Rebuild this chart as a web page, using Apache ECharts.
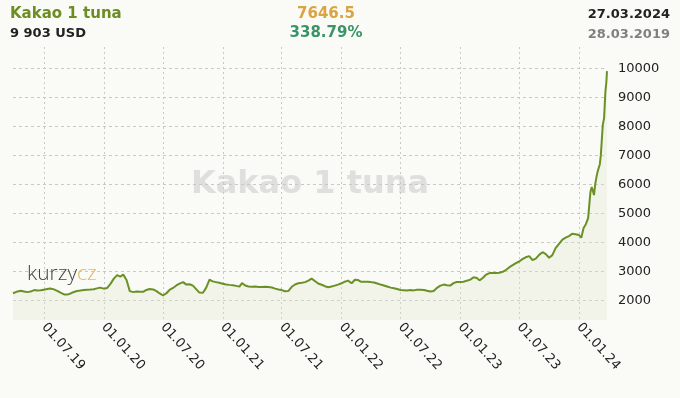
<!DOCTYPE html>
<html>
<head>
<meta charset="utf-8">
<script src="https://cdn.jsdelivr.net/npm/echarts@6/dist/echarts.min.js"></script>
<style>
html,body{margin:0;padding:0;background:#fafaf6;}
#chart{width:680px;height:398px;}
</style>
</head>
<body>
<div id="chart"></div>
<script>
var titleText = 'Kakao 1 tuna';
var lastPriceText = '9 903 USD';
var changeAbs = '7646.5';
var changePct = '338.79%';
var endDateText = '27.03.2024';
var startDateText = '28.03.2019';

var dates = [
'2019-03-28','2019-04-01','2019-04-11','2019-04-21','2019-05-01','2019-05-11','2019-05-21','2019-06-01','2019-06-11','2019-06-21',
'2019-07-01','2019-07-11','2019-07-21','2019-08-01','2019-08-11','2019-08-21','2019-09-01','2019-09-11','2019-09-21','2019-10-01',
'2019-10-11','2019-10-21','2019-11-01','2019-11-11','2019-11-21','2019-12-01','2019-12-11','2019-12-21',
'2020-01-01','2020-01-11','2020-01-21','2020-02-01','2020-02-11','2020-02-21','2020-03-01','2020-03-11','2020-03-21','2020-04-01',
'2020-04-11','2020-04-21','2020-05-01','2020-05-11','2020-05-21','2020-06-01','2020-06-11','2020-06-21','2020-07-01','2020-07-11',
'2020-07-21','2020-08-01','2020-08-11','2020-08-21','2020-09-01','2020-09-11','2020-09-21','2020-10-01','2020-10-11','2020-10-21',
'2020-11-01','2020-11-11','2020-11-21','2020-12-01','2020-12-11','2020-12-21',
'2021-01-01','2021-01-11','2021-01-21','2021-02-01','2021-02-11','2021-02-21','2021-03-01','2021-03-11','2021-03-21','2021-04-01',
'2021-04-11','2021-04-21','2021-05-01','2021-05-11','2021-05-21','2021-06-01','2021-06-11','2021-06-21','2021-07-01','2021-07-11',
'2021-07-21','2021-08-01','2021-08-11','2021-08-21','2021-09-01','2021-09-11','2021-09-21','2021-10-01','2021-10-11','2021-10-21',
'2021-11-01','2021-11-11','2021-11-21','2021-12-01','2021-12-11','2021-12-21',
'2022-01-01','2022-01-11','2022-01-21','2022-02-01','2022-02-11','2022-02-21','2022-03-01','2022-03-11','2022-03-21','2022-04-01',
'2022-04-11','2022-04-21','2022-05-01','2022-05-11','2022-05-21','2022-06-01','2022-06-11','2022-06-21','2022-07-01','2022-07-11',
'2022-07-21','2022-08-01','2022-08-11','2022-08-21','2022-09-01','2022-09-11','2022-09-21','2022-10-01','2022-10-11','2022-10-21',
'2022-11-01','2022-11-11','2022-11-21','2022-12-01','2022-12-11','2022-12-21',
'2023-01-01','2023-01-11','2023-01-21','2023-02-01','2023-02-11','2023-02-21','2023-03-01','2023-03-11','2023-03-21','2023-04-01',
'2023-04-11','2023-04-21','2023-05-01','2023-05-11','2023-05-21','2023-06-01','2023-06-11','2023-06-21','2023-07-01','2023-07-11',
'2023-07-21','2023-08-01','2023-08-11','2023-08-21','2023-09-01','2023-09-11','2023-09-21','2023-10-01','2023-10-11','2023-10-21',
'2023-11-01','2023-11-11','2023-11-21','2023-12-01','2023-12-11','2023-12-21',
'2024-01-01','2024-01-08','2024-01-15','2024-01-22','2024-01-29','2024-02-05','2024-02-09','2024-02-13','2024-02-16','2024-02-20',
'2024-02-23','2024-02-27','2024-03-01','2024-03-05','2024-03-08','2024-03-11','2024-03-14','2024-03-18','2024-03-20','2024-03-22',
'2024-03-25','2024-03-27'
];

var prices = [
2257,2280,2320,2345,2320,2295,2315,2365,2350,2360,
2380,2400,2420,2390,2340,2275,2215,2210,2250,2300,
2335,2350,2370,2380,2385,2395,2425,2450,
2415,2435,2570,2760,2880,2830,2900,2710,2330,2295,
2315,2310,2305,2370,2400,2390,2330,2250,2180,2250,
2370,2440,2525,2590,2640,2555,2565,2520,2400,2280,
2275,2450,2725,2665,2640,2615,
2585,2555,2545,2535,2510,2485,2605,2525,2490,2480,
2485,2475,2470,2480,2470,2455,2415,2385,2365,2325,
2330,2480,2560,2600,2620,2640,2690,2760,2680,2590,
2550,2500,2465,2490,2520,2555,
2600,2655,2690,2600,2720,2710,2655,2655,2655,2640,
2625,2590,2555,2525,2490,2450,2430,2400,2370,2360,
2350,2365,2355,2380,2380,2370,2340,2315,2335,2440,
2520,2555,2535,2520,2605,2645,
2645,2655,2690,2725,2810,2780,2700,2780,2895,2950,
2955,2950,2965,2995,3055,3155,3225,3295,3350,3430,
3495,3535,3395,3450,3585,3670,3605,3480,3570,3810,
3965,4105,4170,4225,4305,4290,
4260,4170,4500,4635,4840,5735,5910,5770,5635,6030,
6220,6435,6550,6700,7010,7525,8045,8285,8730,9180,
9520,9903
];

var yTickValues = [2000,3000,4000,5000,6000,7000,8000,9000,10000];
var xTickDates = ['2019-07-01','2020-01-01','2020-07-01','2021-01-01','2021-07-01','2022-01-01','2022-07-01','2023-01-01','2023-07-01','2024-01-01'];
var xMinDate = '2019-03-28';
var xMaxDate = '2024-03-27';

var ts = function(s){ var p = s.split('-'); return Date.UTC(+p[0], +p[1]-1, +p[2]); };
var seriesData = dates.map(function(d,i){ return [ts(d), prices[i]]; });
var xTicks = xTickDates.map(ts);

var chart = echarts.init(document.getElementById('chart'), null, {renderer:'canvas'});
var font = '"DejaVu Sans", Verdana, sans-serif';
var gridColor = '#c9c9c4';

chart.setOption({
  backgroundColor: '#fafaf6',
  animation: false,
  grid: {left: 13, right: 73, top: 47, bottom: 78, containLabel: false},
  xAxis: {
    type: 'value',
    min: ts(xMinDate),
    max: ts(xMaxDate),
    axisLine: {show: false},
    axisTick: {show: false, customValues: xTicks},
    splitLine: {show: true, lineStyle: {color: gridColor, type: [2,3], width: 1}},
    axisLabel: {
      customValues: xTicks,
      rotate: -48,
      margin: 5,
      color: '#222',
      fontFamily: font,
      fontSize: 13,
      formatter: function(v){
        var d = new Date(v);
        var dd = ('0'+d.getUTCDate()).slice(-2);
        var mm = ('0'+(d.getUTCMonth()+1)).slice(-2);
        var yy = ('0'+(d.getUTCFullYear()%100)).slice(-2);
        return dd+'.'+mm+'.'+yy;
      }
    }
  },
  yAxis: {
    type: 'value',
    position: 'right',
    min: 1336,
    max: 10733,
    axisLine: {show: false},
    axisTick: {show: false, customValues: yTickValues},
    splitLine: {show: true, lineStyle: {color: gridColor, type: [3,3], width: 1}},
    axisLabel: {
      customValues: yTickValues,
      margin: 11,
      color: '#222',
      fontFamily: font,
      fontSize: 13,
      formatter: function(v){ return String(v); }
    }
  },
  graphic: [
    {type:'text', left: 10, top: 7, style:{text: titleText, fill:'#6b8e23', font:'bold 15px '+font}},
    {type:'text', left: 10, top: 27, style:{text: lastPriceText, fill:'#222', font:'bold 13px '+font}},
    {type:'text', x: 326, y: 7, style:{text: changeAbs, fill:'#d9a441', font:'bold 15px '+font, align:'center'}},
    {type:'text', x: 326, y: 26, style:{text: changePct, fill:'#3a9468', font:'bold 15px '+font, align:'center'}},
    {type:'text', x: 670, y: 8, style:{text: endDateText, fill:'#222', font:'bold 13px '+font, align:'right'}},
    {type:'text', x: 670, y: 28, style:{text: startDateText, fill:'#808080', font:'bold 13px '+font, align:'right'}},
    {type:'text', x: 310, y: 185, z: -1, style:{text: titleText, fill:'rgba(205,205,205,0.6)', font:'bold 32px '+font, align:'center', verticalAlign:'middle'}},
    {type:'text', left: 27, top: 264, z: 10, style:{
      rich: {k:{fill:'#444', fontSize: 21, fontFamily: '"Open Sans", Lato, sans-serif', fontWeight: 300}, c:{fill:'#e8b85c', fontSize: 21, fontFamily:'"Open Sans", Lato, sans-serif', fontWeight: 300}},
      text: '{k|kurzy}{c|cz}'
    }}
  ],
  series: [{
    type: 'line',
    data: seriesData,
    showSymbol: false,
    symbol: 'none',
    lineStyle: {color: '#6b9126', width: 2},
    areaStyle: {color: 'rgba(226,230,205,0.45)', origin: 'start'},
    z: 3
  }]
});
</script>
</body>
</html>
